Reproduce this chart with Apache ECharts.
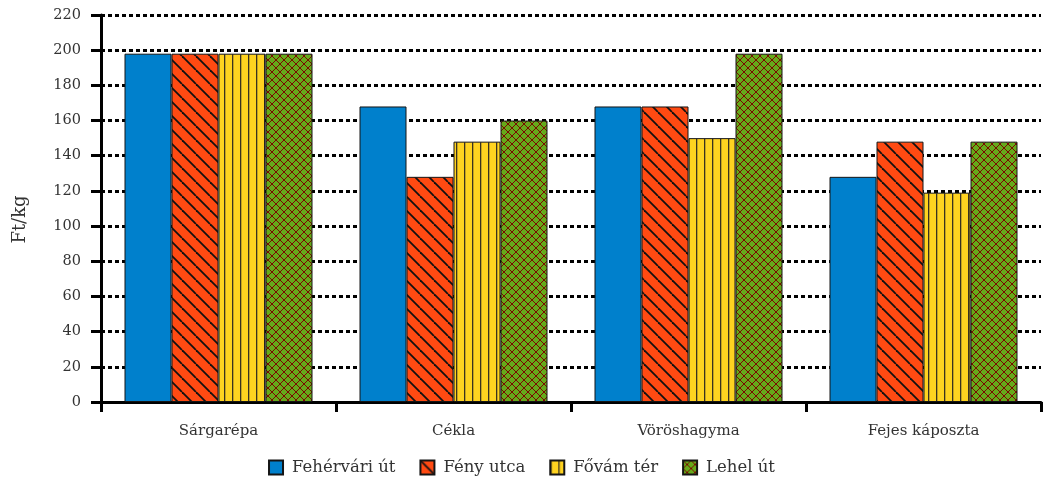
<!DOCTYPE html>
<html>
<head>
<meta charset="utf-8">
<script src="https://cdn.jsdelivr.net/npm/echarts@6/dist/echarts.min.js"></script>
<style>
  html, body { margin: 0; padding: 0; background: #fff; }
  #chart { width: 1043px; height: 488px; }
</style>
</head>
<body>
<div id="chart"></div>
<script>
// adatok
const categories = ['Sárgarépa', 'Cékla', 'Vöröshagyma', 'Fejes káposzta']
const seriesNames = ['Fehérvári út', 'Fény utca', 'Fővám tér', 'Lehel út']
const fehervari = [198, 168, 168, 128]
const fenyUtca = [198, 128, 168, 148]
const fovamTer = [198, 148, 150, 119]
const lehelUt = [198, 160, 198, 148]

// mintázatok (canvas pattern)
function makeTile(w, h, draw) {
  const c = document.createElement('canvas')
  c.width = w
  c.height = h
  draw(c.getContext('2d'), w, h)
  return { image: c, repeat: 'repeat' }
}

const blue = '#0080cc'
const orange = makeTile(14, 14, (ctx, w, h) => {
  ctx.fillStyle = '#ff4a12'
  ctx.fillRect(0, 0, w, h)
  ctx.strokeStyle = '#111'
  ctx.lineWidth = 1.8
  for (let k = -1; k <= 1; k++) {
    ctx.beginPath()
    ctx.moveTo(k * w, 0)
    ctx.lineTo(k * w + w, h)
    ctx.stroke()
  }
})
const yellow = makeTile(8, 4, (ctx, w, h) => {
  ctx.fillStyle = '#ffd320'
  ctx.fillRect(0, 0, w, h)
  ctx.fillStyle = '#3a3220'
  ctx.fillRect(0, 0, 1.3, h)
})
const green = makeTile(8, 8, (ctx, w, h) => {
  ctx.fillStyle = '#66aa1a'
  ctx.fillRect(0, 0, w, h)
  ctx.strokeStyle = '#7a0a00'
  ctx.lineWidth = 1
  for (let k = -1; k <= 1; k++) {
    ctx.beginPath()
    ctx.moveTo(k * w, 0)
    ctx.lineTo(k * w + w, h)
    ctx.stroke()
    ctx.beginPath()
    ctx.moveTo(k * w + w, 0)
    ctx.lineTo(k * w, h)
    ctx.stroke()
  }
})

const font = 'DejaVu Serif'
const txt = '#333'
const chart = echarts.init(document.getElementById('chart'))

const fills = [blue, orange, yellow, green]
const values = [fehervari, fenyUtca, fovamTer, lehelUt]

chart.setOption({
  animation: false,
  textStyle: { fontFamily: font, color: txt },
  grid: { left: 101, right: 2, top: 15, bottom: 86 },
  legend: {
    bottom: 7,
    left: 'center',
    icon: 'rect',
    itemWidth: 14,
    itemHeight: 14,
    itemGap: 24,
    textStyle: { fontFamily: font, fontSize: 16.5, color: txt, padding: [0, 0, 0, 4] },
    data: seriesNames
  },
  xAxis: {
    type: 'category',
    data: categories,
    axisLine: { lineStyle: { color: '#000', width: 3 } },
    axisTick: { show: true, length: 10, lineStyle: { color: '#000', width: 3 } },
    axisLabel: { fontSize: 15, color: txt, margin: 22, fontFamily: font }
  },
  yAxis: {
    type: 'value',
    min: 0,
    max: 220,
    interval: 20,
    name: 'Ft/kg',
    nameLocation: 'middle',
    nameGap: 72,
    nameTextStyle: { fontSize: 18, color: txt, fontFamily: font, padding: [0, 22, 0, 0] },
    axisLine: { show: true, lineStyle: { color: '#000', width: 3 } },
    axisTick: { show: true, length: 10, lineStyle: { color: '#000', width: 3 } },
    axisLabel: { fontSize: 14.5, color: txt, margin: 20, fontFamily: font },
    splitLine: { lineStyle: { color: '#000', width: 3, type: [4, 3] } }
  },
  series: seriesNames.map((name, i) => ({
    name: name,
    type: 'bar',
    data: values[i],
    barGap: '0%',
    barCategoryGap: '20%',
    itemStyle: { color: fills[i], borderColor: '#151515', borderWidth: 1 }
  }))
})
</script>
</body>
</html>
